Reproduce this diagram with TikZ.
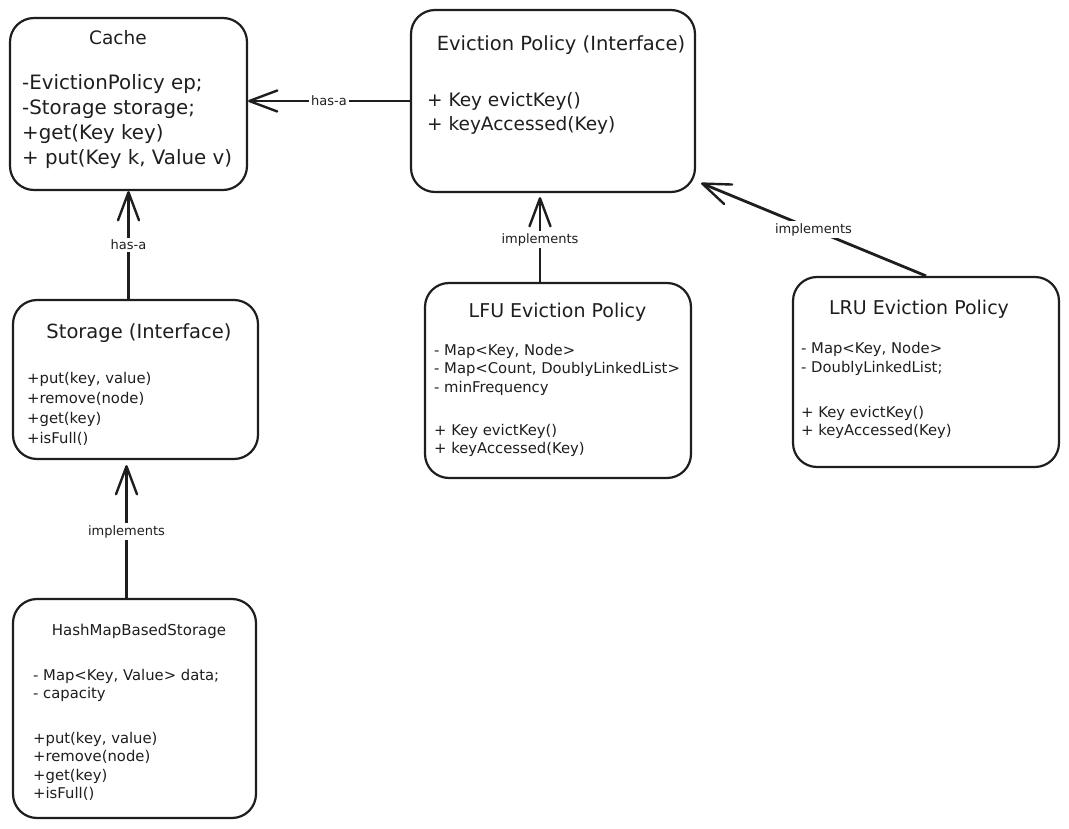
\documentclass[tikz,border=0pt]{standalone}
\usepackage{fontspec}
\setmainfont{DejaVu Sans}
\usetikzlibrary{arrows.meta,calc}
\definecolor{ink}{HTML}{1E1E1E}
\begin{document}
\begin{tikzpicture}[x=1pt,y=-1pt,
  box/.style={draw=ink, line width=2.2pt, rounded corners=24pt, inner sep=0pt, fill=white},
  big/.style={inner sep=0pt, text=ink, font=\fontsize{19.8}{25}\selectfont},
  small/.style={inner sep=0pt, text=ink, font=\fontsize{14.8}{19}\selectfont},
  ttl/.style={inner sep=0pt, text=ink, anchor=base},
  ln/.style={anchor=base west},
  conn/.style={draw=ink, line width=2.8pt, -{Straight Barb[length=28pt,width=21pt,line width=2.4pt,round]}},
  lbl/.style={fill=white, text=ink, inner sep=2pt, font=\fontsize{13}{15}\selectfont}
]
\useasboundingbox (0,0) rectangle (1069,829);

% boxes
\node[box, minimum width=237pt, minimum height=172pt] (cache) at (128.5,104) {};
\node[box, minimum width=284pt, minimum height=182pt] (evict) at (553,101) {};
\node[box, minimum width=245pt, minimum height=159pt] (storage) at (135.5,379.5) {};
\node[box, minimum width=266pt, minimum height=195pt] (lfu) at (558,380.5) {};
\node[box, minimum width=266pt, minimum height=190pt] (lru) at (926,372) {};
\node[box, minimum width=243pt, minimum height=219pt] (hash) at (134.5,708.5) {};

% Cache
\node[ttl, font=\fontsize{18.5}{22}\selectfont] (cacheT) at (118,45) {Cache};
\node[big, ln] (cache1) at (22,90) {-EvictionPolicy ep;};
\node[big, ln] (cache2) at (22,115) {-Storage storage;};
\node[big, ln] (cache3) at (22,140) {+get(Key key)};
\node[big, ln] (cache4) at (22,165) {+ put(Key k, Value v)};

% Eviction policy
\node[ttl, font=\fontsize{19.5}{22}\selectfont] (evictT) at (561,51) {Eviction Policy (Interface)};
\node[big, ln, font=\fontsize{18.5}{22}\selectfont] (evict1) at (427,107) {+ Key evictKey()};
\node[big, ln, font=\fontsize{18.5}{22}\selectfont] (evict2) at (427,131) {+ keyAccessed(Key)};

% Storage
\node[ttl, font=\fontsize{19.5}{22}\selectfont] (storageT) at (139,338) {Storage (Interface)};
\node[small, ln] (st1) at (27,383) {+put(key, value)};
\node[small, ln] (st2) at (27,403) {+remove(node)};
\node[small, ln] (st3) at (27,423) {+get(key)};
\node[small, ln] (st4) at (27,443) {+isFull()};

% LFU
\node[ttl, font=\fontsize{19}{22}\selectfont] (lfuT) at (557.5,317) {LFU Eviction Policy};
\node[small, ln] (lfu1) at (434,355) {- Map<Key, Node>};
\node[small, ln] (lfu2) at (434,373.5) {- Map<Count, DoublyLinkedList>};
\node[small, ln] (lfu3) at (434,392) {- minFrequency};
\node[small, ln] (lfu4) at (434,435) {+ Key evictKey()};
\node[small, ln] (lfu5) at (434,453.5) {+ keyAccessed(Key)};

% LRU
\node[ttl, font=\fontsize{19}{22}\selectfont] (lruT) at (919,315) {LRU Eviction Policy};
\node[small, ln] (lru1) at (801,353) {- Map<Key, Node>};
\node[small, ln] (lru2) at (801,372) {- DoublyLinkedList;};
\node[small, ln] (lru3) at (801,417) {+ Key evictKey()};
\node[small, ln] (lru4) at (801,435.5) {+ keyAccessed(Key)};

% HashMapBasedStorage
\node[ttl, font=\fontsize{15}{18}\selectfont] (hashT) at (139,635) {HashMapBasedStorage};
\node[small, ln] (h1) at (33,680) {- Map<Key, Value> data;};
\node[small, ln] (h2) at (33,698.5) {- capacity};
\node[small, ln] (h3) at (33,743) {+put(key, value)};
\node[small, ln] (h4) at (33,761.5) {+remove(node)};
\node[small, ln] (h5) at (33,780) {+get(key)};
\node[small, ln] (h6) at (33,798.5) {+isFull()};

% connectors
\draw[conn] (evict.west) -- (evict.west -| cache.east)
  node[lbl, midway] (lblA) {has-a};
\draw[conn] (storage.north -| cache.south) -- (cache.south)
  node[lbl, midway] (lblB) {has-a};
\draw[conn] ($(lfu.north)+(-18,0)$) -- ($(evict.south)+(-13,4)$)
  node[lbl, midway] (lblC) {implements};
\draw[conn] (lru.north) -- ($(evict.south east)+(5,-10)$)
  node[lbl, midway] (lblD) {implements};
\draw[conn] ($(hash.north)+(-8,0)$) -- ($(storage.south)+(-9,5)$)
  node[lbl, midway] (lblE) {implements};
\end{tikzpicture}
\end{document}
